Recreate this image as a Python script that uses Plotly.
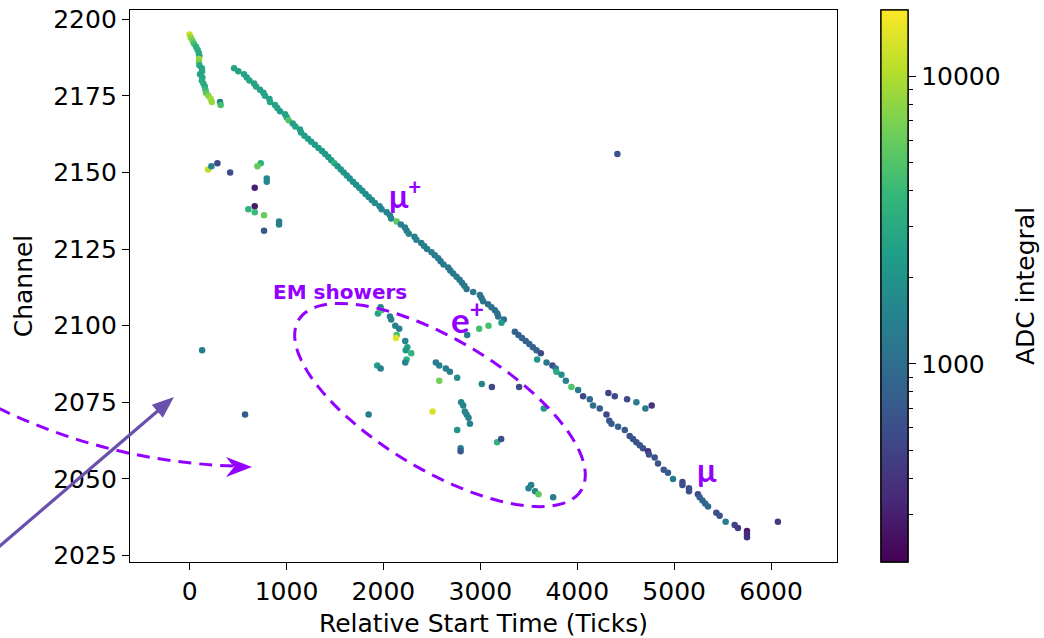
import numpy as np
import plotly.graph_objects as go

# ---------------- data ----------------
# main muon track (one hit per channel where visible)
track_ch = [2184, 2183, 2182, 2181, 2180, 2179, 2178, 2177, 2176, 2175, 2174, 2173, 2172, 2171, 2170, 2169, 2168, 2167, 2166, 2165, 2164, 2163,
            2162, 2161, 2160, 2159, 2158, 2157, 2156, 2155, 2154, 2153, 2152, 2151, 2150, 2149, 2148, 2147, 2146, 2145, 2144, 2143, 2142, 2141, 2140,
            2139, 2138, 2137, 2136, 2135, 2134, 2133, 2132, 2131, 2130, 2129, 2128, 2127, 2126, 2125, 2124, 2123, 2122, 2121, 2120,
            2119, 2118, 2117, 2116, 2115, 2114, 2113, 2112, 2111, 2110, 2109, 2108, 2107, 2106, 2105, 2104, 2103, 2102, 2101,
            2098, 2097, 2096, 2095, 2094, 2093, 2092, 2091, 2089, 2088, 2087, 2086, 2085, 2084, 2082, 2080, 2079, 2077, 2076, 2074,
            2073, 2071, 2069, 2068, 2067, 2066,
            2064, 2063, 2062, 2061, 2060, 2059, 2058, 2057, 2055, 2053, 2052, 2050, 2049, 2048, 2047, 2046, 2045, 2044, 2043, 2042,
            2041, 2039, 2038, 2036, 2035, 2034, 2033, 2032, 2031]
track_t = [459, 503, 562, 590, 617, 665, 686, 727, 761, 778, 823, 830, 881, 905, 933, 985, 1002, 1022, 1064, 1091, 1139, 1150,
           1185, 1222, 1255, 1293, 1330, 1366, 1398, 1431, 1462, 1494, 1527, 1560, 1590, 1622, 1652, 1685, 1718, 1750, 1782, 1815, 1848, 1880, 1912,
           1960, 1981, 2033, 2067, 2080, 2136, 2180, 2222, 2240, 2262, 2320, 2340, 2390, 2420, 2450, 2497, 2530, 2565, 2590, 2620,
           2668, 2690, 2720, 2754, 2785, 2810, 2835, 2858, 2926, 2995, 3012, 3029, 3080, 3115, 3150, 3175, 3184, 3242, 3218,
           3356, 3393, 3430, 3468, 3505, 3542, 3579, 3624, 3586, 3683, 3744, 3778, 3785, 3837, 3882, 3940, 4009, 4060, 4129, 4163,
           4232, 4301, 4330, 4353, 4421, 4490,
           4541, 4575, 4610, 4645, 4678, 4730, 4740, 4799, 4833, 4892, 4936, 4988, 5085, 5085, 5153, 5153, 5245, 5263, 5292, 5320,
           5349, 5435, 5469, 5531, 5624, 5658, 5751, 5751, 5751]
track_adc = [2700, 2600, 2700, 2600, 2800, 2600, 2700, 2600, 2700, 2600, 2600, 2700, 2600, 2600, 2500, 2600, 2600, 5200, 2500, 2600, 2500, 2500,
             2500, 2400, 2400, 2400, 2300, 2300, 2300, 2200, 2300, 3300, 2200, 2100, 2100, 2000, 2000, 2000, 1900, 1900, 1900, 1800, 1800, 1700, 1700,
             1600, 1500, 1500, 1500, 1500, 5500, 1400, 1400, 1400, 1500, 1400, 1400, 1300, 1400, 1300, 1300, 1300, 1300, 1200, 1300,
             1300, 1200, 1200, 1300, 1200, 1200, 1200, 1100, 1200, 1100, 1100, 1100, 1000, 1100, 1000, 1100, 1000, 1000, 2300,
             850, 800, 800, 800, 800, 800, 850, 550, 2000, 1200, 600, 1200, 3000, 1800, 1400, 5000, 1300, 550, 900, 1000,
             750, 550, 700, 700, 800, 700,
             650, 650, 650, 650, 650, 400, 600, 650, 650, 700, 700, 1300, 550, 600, 600, 600, 550, 800, 900, 900,
             900, 600, 650, 1300, 500, 450, 280, 350, 380]

# hook of hits near t = 0
left_t = [0, 12, 30, 46, 67, 82, 95, 101, 98, 96, 101, 126, 129, 108, 132, 126, 142, 157, 163, 170, 194, 218, 229, 314, 321]
left_ch = [2195, 2194, 2193, 2192, 2191, 2190, 2189, 2188, 2187, 2186, 2185, 2184, 2183, 2182, 2181, 2180, 2179, 2178, 2177, 2176,
           2175, 2174, 2173, 2173, 2172]
left_adc = [12000, 8000, 6500, 4500, 3500, 3200, 3000, 3000, 8500, 7000, 3000, 2700, 2800, 2700, 2800, 3000, 3200, 3000, 4000, 5000,
            7500, 9000, 8500, 1300, 4500]

# scattered hits around channel 2130-2153
mid_t = [191, 225, 287, 418, 734, 699, 796, 796, 672, 672, 606, 672, 768, 923, 923, 768]
mid_ch = [2151, 2152, 2153, 2150, 2153, 2152, 2148, 2147, 2145, 2139, 2138, 2137, 2136, 2134, 2133, 2131]
mid_adc = [11000, 1500, 550, 600, 3500, 6000, 1600, 1600, 300, 280, 3500, 4000, 6000, 1300, 1300, 700]

# EM shower hits
shower_t = [1971, 1943, 1980, 2067, 2080, 2122, 2163, 2136, 2129, 2225, 2246, 2230, 2287, 2239, 2225, 1936, 1971, 2541, 2576, 2644,
            2686, 2761, 2576, 3015, 3119, 3400, 3655, 1847, 2507, 2802, 2823, 2840, 2858, 2878, 2892, 2761, 2796, 2796, 3173, 3215,
            3524, 3497, 3565, 3600, 3751]
shower_ch = [2106, 2104, 2105, 2103, 2102, 2100, 2099, 2097, 2096, 2095, 2093, 2092, 2091, 2089, 2088, 2087, 2086, 2088, 2087, 2086,
             2085, 2083, 2082, 2081, 2080, 2080, 2073, 2071, 2072, 2075, 2074, 2072, 2071, 2070, 2068, 2066, 2060, 2059, 2062, 2063,
             2048, 2047, 2046, 2045, 2044]
shower_adc = [1500, 2600, 4500, 1400, 1400, 1400, 1400, 4500, 14000, 1500, 2500, 2200, 3500, 3500, 1500, 2500, 1400, 1300, 1400, 1300,
              1400, 1800, 6500, 1500, 550, 550, 2200, 1300, 13000, 1500, 1600, 1500, 1500, 1400, 1400, 2000, 1300, 700, 3500, 600,
              1400, 1500, 1600, 5500, 1300]

# positron hits
pos_t = [2988, 3084, 2864]
pos_ch = [2099, 2100, 2097]
pos_adc = [4500, 4500, 1300]

# small group right of the track
side_t = [4321, 4387, 4514, 4610, 4703, 4768]
side_ch = [2078, 2077, 2076, 2075, 2073, 2074]
side_adc = [500, 550, 550, 1300, 1200, 400]

# isolated hits
iso_t = [4414, 129, 572, 6070]
iso_ch = [2156, 2092, 2071, 2036]
iso_adc = [650, 1300, 750, 450]

x_ticks = [0, 1000, 2000, 3000, 4000, 5000, 6000]
y_ticks = [2025, 2050, 2075, 2100, 2125, 2150, 2175, 2200]
cbar_major = [1000, 10000]
cbar_minor = [300, 400, 500, 600, 700, 800, 900, 2000, 3000, 4000, 5000, 6000, 7000, 8000, 9000]
ADC_MIN, ADC_MAX = 205, 17000

# ---------------- figure geometry ----------------
W, H = 1044, 638
ML, MR, MT, MB = 130, 207, 10, 76
PW, PH = W - ML - MR, H - MT - MB


def pp(x, y):
    """pixel -> paper coordinates"""
    return (x - ML) / PW, (H - MB - y) / PH


all_t = track_t + left_t + mid_t + shower_t + pos_t + side_t + iso_t
all_ch = track_ch + left_ch + mid_ch + shower_ch + pos_ch + side_ch + iso_ch
all_adc = track_adc + left_adc + mid_adc + shower_adc + pos_adc + side_adc + iso_adc
assert len(all_t) == len(all_ch) == len(all_adc)

lo, hi = np.log10(ADC_MIN), np.log10(ADC_MAX)
FONT = "DejaVu Sans"
FS = 25
cb_x = pp(881, 0)[0]

cb_common = dict(
    x=cb_x, xanchor="left", xpad=0, y=0.5, yanchor="middle", ypad=0,
    len=1, lenmode="fraction", thickness=27, thicknessmode="pixels",
    outlinewidth=1.3, outlinecolor="black", ticks="outside", tickwidth=1.3, tickcolor="black",
    tickfont=dict(family=FONT, size=FS, color="black"),
)

fig = go.Figure()
fig.add_trace(go.Scatter(
    x=all_t, y=all_ch, mode="markers",
    marker=dict(size=6.5, color=np.log10(all_adc), colorscale="Viridis", cmin=lo, cmax=hi,
                line=dict(width=0), showscale=True,
                colorbar=dict(**cb_common, tickvals=np.log10(cbar_major).tolist(),
                              ticktext=[str(v) for v in cbar_major], ticklen=8)),
    customdata=all_adc, hovertemplate="t=%{x}<br>ch=%{y}<br>ADC=%{customdata}<extra></extra>",
    showlegend=False,
))
# second colour bar on top of the first, carrying only the (unlabelled) minor ticks
fig.add_trace(go.Scatter(
    x=[None], y=[None], mode="markers", hoverinfo="skip", showlegend=False,
    marker=dict(color=[lo], colorscale="Viridis", cmin=lo, cmax=hi, showscale=True,
                colorbar=dict(**cb_common, tickvals=np.log10(cbar_minor).tolist(),
                              showticklabels=False, ticklen=4.5)),
))

PURPLE = "#9400ff"
shapes = []
# dashed ellipse around the EM showers
cx, cy, a, b, phi = 440, 405, 165, 65, np.radians(31)
th = np.linspace(0, 2 * np.pi, 97)
ex = cx + a * np.cos(th) * np.cos(phi) - b * np.sin(th) * np.sin(phi)
ey = cy + a * np.cos(th) * np.sin(phi) + b * np.sin(th) * np.cos(phi)
pts = [pp(x, y) for x, y in zip(ex, ey)]
path = "M " + " L ".join(f"{x:.4f},{y:.4f}" for x, y in pts) + " Z"
shapes.append(dict(type="path", xref="paper", yref="paper", path=path,
                   line=dict(color=PURPLE, width=3, dash="13px,8px")))
# dashed curved arrow from the left
p0, pc, p1 = pp(-2, 408), pp(110, 462), pp(234, 466)
shapes.append(dict(type="path", xref="paper", yref="paper",
                   path=f"M {p0[0]:.4f},{p0[1]:.4f} Q {pc[0]:.4f},{pc[1]:.4f} {p1[0]:.4f},{p1[1]:.4f}",
                   line=dict(color=PURPLE, width=3, dash="13px,8px")))
head = [pp(252, 467), pp(226, 457), pp(234, 467), pp(226, 477)]
shapes.append(dict(type="path", xref="paper", yref="paper",
                   path="M " + " L ".join(f"{x:.4f},{y:.4f}" for x, y in head) + " Z",
                   fillcolor=PURPLE, line=dict(width=0)))
# solid arrow from lower left
ARROW = "#6a50ad"
s0, s1 = pp(-6, 551), pp(160, 409)
shapes.append(dict(type="line", xref="paper", yref="paper", x0=s0[0], y0=s0[1], x1=s1[0], y1=s1[1],
                   line=dict(color=ARROW, width=3.2)))
tip = np.array([174, 397.0])
u = np.array([180, -154.0]); u /= np.linalg.norm(u)
nrm = np.array([-u[1], u[0]])
base = tip - 22 * u
tri = [pp(*tip), pp(*(base + 8.5 * nrm)), pp(*(base - 8.5 * nrm))]
shapes.append(dict(type="path", xref="paper", yref="paper",
                   path="M " + " L ".join(f"{x:.4f},{y:.4f}" for x, y in tri) + " Z",
                   fillcolor=ARROW, line=dict(width=0)))

annotations = []
for text, (x, y), size, fam in [("<b>μ<sup>+</sup></b>", (405, 194), 32, "Lato"),
                                ("<b>e<sup>+</sup></b>", (467, 317), 35, "Lato"),
                                ("<b>μ</b>", (707, 469), 32, "Lato"),
                                ("<b>EM showers</b>", (340, 292), 20, "DejaVu Sans")]:
    px_, py_ = pp(x, y)
    annotations.append(dict(text=text, x=px_, y=py_, xref="paper", yref="paper", showarrow=False,
                            xanchor="center", yanchor="middle",
                            font=dict(family=fam, size=size, color=PURPLE)))
# colour-bar label
cbx, cby = pp(1025, 286)
annotations.append(dict(text="ADC integral", x=cbx, y=cby, xref="paper", yref="paper", showarrow=False,
                        xanchor="center", yanchor="middle", textangle=-90,
                        font=dict(family=FONT, size=FS, color="black")))

axis_common = dict(showline=True, linewidth=1.3, linecolor="black", mirror=True, showgrid=False, zeroline=False,
                   ticks="outside", ticklen=7, tickwidth=1.3, tickcolor="black",
                   tickfont=dict(family=FONT, size=FS, color="black"), automargin=False)

fig.update_layout(
    width=W, height=H, margin=dict(l=ML, r=MR, t=MT, b=MB),
    paper_bgcolor="white", plot_bgcolor="white",
    xaxis=dict(**axis_common, range=[-615, 6680], tickvals=x_ticks,
               title=dict(text="Relative Start Time (Ticks)", standoff=10,
                          font=dict(family=FONT, size=FS, color="black"))),
    yaxis=dict(**axis_common, range=[2022.9, 2203.0], tickvals=y_ticks,
               title=dict(text="Channel", standoff=13,
                          font=dict(family=FONT, size=FS, color="black"))),
    shapes=shapes, annotations=annotations,
)

fig.write_html("out.html", config={"displayModeBar": False},
               post_script="document.body.style.margin='0px';")
